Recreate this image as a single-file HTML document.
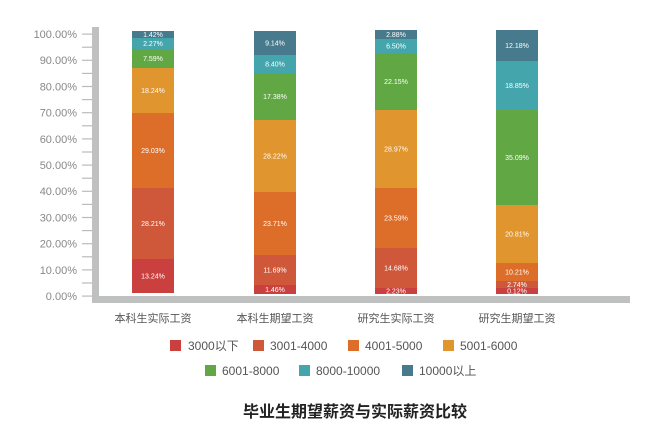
<!DOCTYPE html>
<html><head><meta charset="utf-8"><style>
body{margin:0;background:#fff;width:661px;height:432px;overflow:hidden}
svg text{font-family:"Liberation Sans","Noto Sans CJK SC",sans-serif}
</style></head><body>
<svg id="s" width="661" height="432" xmlns="http://www.w3.org/2000/svg">
<rect x="92" y="27" width="7" height="276" fill="#bfc1c1"/>
<rect x="92" y="296" width="538" height="7" fill="#bfc1c1"/>
<g id="ax"></g>
<g id="bars"></g>
<g font-size="11" fill="#555" text-anchor="middle">
<text x="153" y="322">本科生实际工资</text>
<text x="275" y="322">本科生期望工资</text>
<text x="396" y="322">研究生实际工资</text>
<text x="517" y="322">研究生期望工资</text>
</g>
<g font-size="12" fill="#555">
<rect x="170" y="340" width="11" height="11" fill="#c9403f"/><text x="188" y="350">3000以下</text>
<rect x="253" y="340" width="11" height="11" fill="#d0583a"/><text x="270" y="350">3001-4000</text>
<rect x="348" y="340" width="11" height="11" fill="#dc6e2a"/><text x="365" y="350">4001-5000</text>
<rect x="443" y="340" width="11" height="11" fill="#e0952e"/><text x="460" y="350">5001-6000</text>
<rect x="205" y="365" width="11" height="11" fill="#61a844"/><text x="222" y="375">6001-8000</text>
<rect x="299" y="365" width="11" height="11" fill="#44a5ac"/><text x="316" y="375">8000-10000</text>
<rect x="402" y="365" width="11" height="11" fill="#467a8c"/><text x="419" y="375">10000以上</text>
</g>
<text x="355" y="417" font-size="16" font-weight="bold" fill="#222" text-anchor="middle">毕业生期望薪资与实际薪资比较</text>
</svg>
<script>
var NS="http://www.w3.org/2000/svg";
function el(p,t,a,txt){var e=document.createElementNS(NS,t);for(var k in a)e.setAttribute(k,a[k]);if(txt!=null)e.textContent=txt;p.appendChild(e);return e;}
var ax=document.getElementById("ax");
for(var i=0;i<=20;i++){var y=296-i*13.1;el(ax,"rect",{x:82,y:y-0.5,width:10,height:1.2,fill:"#bbb"});
if(i%2==0)el(ax,"text",{x:77,y:y+4,"font-size":11,fill:"#888","text-anchor":"end"},(i*5).toFixed(2)+"%");}
var cols=["#c9403f","#d0583a","#dc6e2a","#e0952e","#61a844","#44a5ac","#467a8c"];
var data=[
[132,["13.24","28.21","29.03","18.24","7.59","2.27","1.42"],[293,259,188,113,68,49,38,31]],
[254,["1.46","11.69","23.71","28.22","17.38","8.40","9.14"],[294,285,255,192,120,73,55,31]],
[375,["2.23","14.68","23.59","28.97","22.15","6.50","2.88"],[294,288,248,188,110,53,39,30]],
[496,["0.12","2.74","10.21","20.81","35.09","18.85","12.18"],[294,288,281,263,205,110,61,30]]];
var g=document.getElementById("bars");
data.forEach(function(d){var x=d[0],labs=d[1],b=d[2];
labs.forEach(function(l,j){var bot=b[j],top=b[j+1];
el(g,"rect",{x:x,y:top,width:42,height:bot-top,fill:cols[j]});
el(g,"text",{x:x+21,y:(top+bot)/2+2.5,"font-size":7,fill:"#fff","text-anchor":"middle"},l+"%");});});
</script>
</body></html>
